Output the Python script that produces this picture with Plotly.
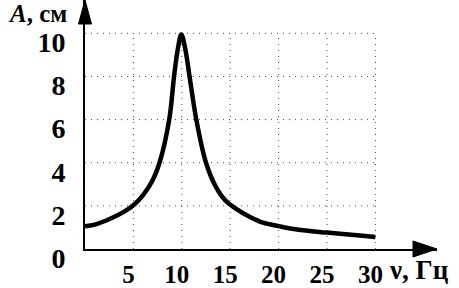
import plotly.graph_objects as go

# Data
nu = [0, 1, 2.6, 4, 5, 6, 7, 7.7, 8.7, 9.2, 9.6, 9.95, 10.35, 10.8, 11.5, 12.5, 13.5, 14.5, 15.5, 17, 18.4, 20, 21.9, 25, 28.1, 30]
amp = [1.05, 1.13, 1.4, 1.72, 2.03, 2.5, 3.2, 4.0, 6.0, 8.0, 9.3, 9.95, 9.3, 8.0, 6.0, 4.0, 2.9, 2.25, 1.9, 1.5, 1.22, 1.06, 0.9, 0.76, 0.64, 0.56]

x_ticks = [5, 10, 15, 20, 25, 30]
y_ticks = [0, 2, 4, 6, 8, 10]
x_grid = [5, 10, 15, 20, 25, 30]
y_grid = [2, 4, 6, 8, 10]
x_title = "ν, Гц"
y_title = "<i>A</i>, см"

W, H = 459, 288
ML, MR, MT, MB = 85, 22, 0, 34
px_per_x = 9.68
px_per_y = 22.0
x_max = (W - ML - MR) / px_per_x
y_max = (H - MT - MB) / px_per_y
grid_x_end = max(x_grid)
grid_y_end = max(y_grid)

FONT = "Liberation Serif"

fig = go.Figure()

fig.add_trace(go.Scatter(
    x=nu, y=amp, mode="lines",
    line=dict(color="black", width=4.5, shape="spline", smoothing=1.0),
    hoverinfo="skip", showlegend=False,
))

shapes = []
for gx in x_grid:
    shapes.append(dict(type="line", xref="x", yref="y", x0=gx, x1=gx, y0=0, y1=grid_y_end,
                       line=dict(color="#444", width=1, dash="1px,5px"), layer="below"))
for gy in y_grid:
    shapes.append(dict(type="line", xref="x", yref="y", x0=0, x1=grid_x_end, y0=gy, y1=gy,
                       line=dict(color="#444", width=1, dash="1px,5px"), layer="below"))
# arrow heads
shapes.append(dict(type="path", xref="paper", yref="paper", xsizemode="pixel", ysizemode="pixel",
                   xanchor=1, yanchor=0, path="M -24,-8 L 0,0 L -24,8 Z",
                   fillcolor="black", line=dict(color="black", width=1)))
shapes.append(dict(type="path", xref="paper", yref="paper", xsizemode="pixel", ysizemode="pixel",
                   xanchor=0, yanchor=1, path="M -6.5,-24 L 0,0 L 6.5,-24 Z",
                   fillcolor="black", line=dict(color="black", width=1)))

pw = W - ML - MR
ph = H - MT - MB
annotations = [
    dict(text="<b>" + y_title + "</b>", xref="paper", yref="paper",
         x=(6 - ML) / pw, y=(ph - 14) / ph, xanchor="left", yanchor="middle",
         showarrow=False, font=dict(family=FONT, size=25, color="black")),
    dict(text="<b>" + x_title + "</b>", xref="paper", yref="paper",
         x=(387 - ML) / pw, y=(ph - 275 + MT) / ph, xanchor="left", yanchor="middle",
         showarrow=False, font=dict(family=FONT, size=27, color="black")),
]

fig.update_layout(
    width=W, height=H,
    margin=dict(l=ML, r=MR, t=MT, b=MB, pad=0),
    plot_bgcolor="white", paper_bgcolor="white",
    shapes=shapes, annotations=annotations,
    xaxis=dict(range=[0, x_max], showgrid=False, zeroline=False, showline=True,
               linecolor="black", linewidth=2, tickvals=x_ticks,
               ticktext=[str(v) for v in x_ticks], ticks="",
               tickfont=dict(family=FONT, size=25, color="black", weight="bold"),
               ticklabelshift=-5, ticklabelstandoff=2),
    yaxis=dict(range=[0, y_max], showgrid=False, zeroline=False, showline=True,
               linecolor="black", linewidth=2, tickvals=y_ticks,
               ticktext=[str(v) for v in y_ticks], ticks="",
               tickfont=dict(family=FONT, size=28, color="black", weight="bold"),
               ticklabelshift=9, ticklabelstandoff=12),
)

fig.write_html("out.html")
